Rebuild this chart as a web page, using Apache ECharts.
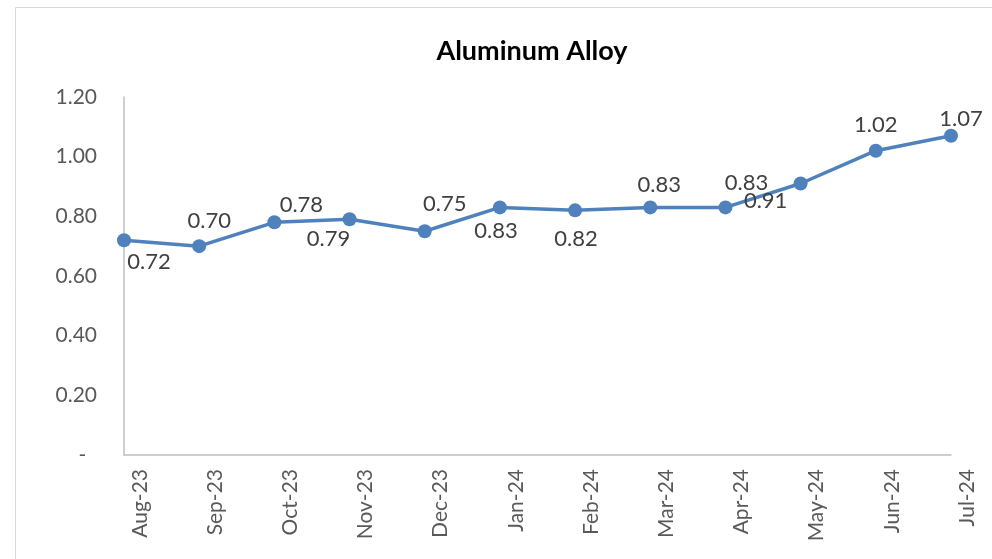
<!DOCTYPE html>
<html>
<head>
<meta charset="utf-8">
<script src="https://cdn.jsdelivr.net/npm/echarts@6/dist/echarts.min.js"></script>
<style>
html,body{margin:0;padding:0;background:#fff;}
#chart{width:992px;height:559px;}
</style>
</head>
<body>
<div id="chart"></div>
<script>
const categories = ['Aug-23','Sep-23','Oct-23','Nov-23','Dec-23','Jan-24','Feb-24','Mar-24','Apr-24','May-24','Jun-24','Jul-24'];
const values = [0.72, 0.70, 0.78, 0.79, 0.75, 0.83, 0.82, 0.83, 0.83, 0.91, 1.02, 1.07];
const yTicks = [0, 0.2, 0.4, 0.6, 0.8, 1.0, 1.2];
// label placement relative to each marker (layout only)
const labelOffsets = [[25,22],[10,-25],[27,-17],[-21,20],[20,-27],[-4,24],[1,29],[9,-22],[21,-24],[-35,17],[0,-26],[10,-17]];

const FONT = 'Lato, "Open Sans", sans-serif';
const chart = echarts.init(document.getElementById('chart'));
chart.setOption({
  backgroundColor: '#fff',
  animation: false,
  title: {
    text: 'Aluminum Alloy',
    left: 527, top: 33, textAlign: 'center',
    textStyle: {fontFamily: FONT, fontWeight: 'bold', fontSize: 27, color: '#000'}
  },
  graphic: [{
    type: 'rect', silent: true,
    shape: {x: 15.5, y: 7.5, width: 1100, height: 700},
    style: {fill: 'none', stroke: '#d9d9d9', lineWidth: 1}
  }],
  grid: {left: 124, right: 41, top: 97, bottom: 104, containLabel: false},
  xAxis: {
    type: 'category', data: categories, boundaryGap: false,
    axisLine: {lineStyle: {color: '#bfbfbf', width: 1.5}},
    axisTick: {show: false},
    axisLabel: {rotate: 90, margin: 14, color: '#595959', fontFamily: FONT, fontSize: 21,
      verticalAlign: 'top', lineHeight: 32, interval: 0}
  },
  yAxis: {
    type: 'value', min: yTicks[0], max: yTicks[yTicks.length-1], interval: 0.2,
    axisLine: {show: true, lineStyle: {color: '#bfbfbf', width: 1.5}},
    axisTick: {show: false},
    splitLine: {show: false},
    axisLabel: {margin: 27, color: '#595959', fontFamily: FONT, fontSize: 21,
      formatter: v => v === 0 ? '-  ' : v.toFixed(2)}
  },
  series: [{
    type: 'line', data: values.map((v,i)=>({value: v, label: {offset: labelOffsets[i]}})),
    symbol: 'circle', symbolSize: 14,
    lineStyle: {color: '#4f81bd', width: 3.5},
    itemStyle: {color: '#4f81bd'},
    label: {show: true, position: 'inside', color: '#404040', fontFamily: FONT, fontSize: 22,
      formatter: p => p.value.toFixed(2)}
  }]
});
</script>
</body>
</html>
